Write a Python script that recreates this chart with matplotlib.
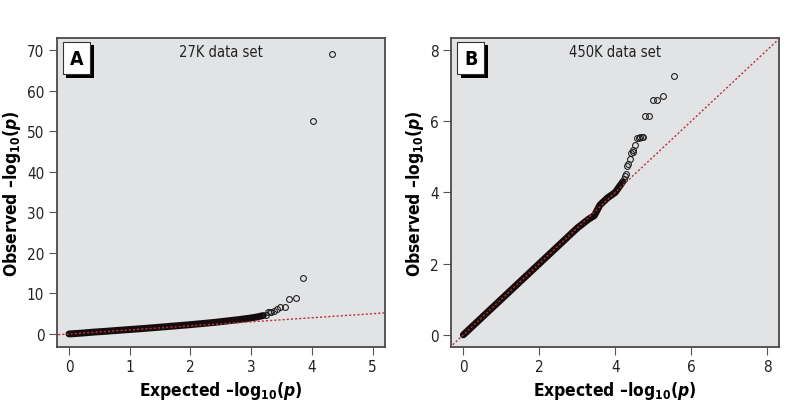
import matplotlib
matplotlib.use("Agg")
import matplotlib.pyplot as plt
from matplotlib import patheffects as pe

plt.rcParams['font.family'] = ['DejaVu Sans']
plt.rcParams['font.stretch'] = 'condensed'
plt.rcParams['mathtext.default'] = 'regular'
plt.rcParams['mathtext.fontset'] = 'custom'
plt.rcParams['mathtext.it'] = 'DejaVu Sans:italic:bold'

# Panel A - 27K data set (curve)
a_dense_x = [0.0, 0.2, 0.4, 0.6, 0.8, 1.0, 1.2, 1.4, 1.6, 1.8, 2.0, 2.2, 2.4, 2.6, 2.8, 3.0, 3.1, 3.2]
a_dense_y = [0.0, 0.2, 0.45, 0.65, 0.88, 1.1, 1.32, 1.56, 1.8, 2.05, 2.3, 2.58, 2.86, 3.2, 3.55, 3.95, 4.2, 4.55]
a_tail_x = [3.24, 3.28, 3.31, 3.33, 3.37, 3.43, 3.48, 3.55, 3.63, 3.73, 3.85, 4.02, 4.33]
a_tail_y = [4.7, 5.35, 5.35, 5.5, 5.75, 6.16, 6.65, 6.73, 8.6, 8.96, 13.7, 52.5, 69.1]

# Panel B - 450K data set
b_dense_x = [0.0, 1.0, 2.0, 3.0, 3.3, 3.45, 3.6, 3.8, 4.0, 4.1, 4.2]
b_dense_y = [0.0, 1.0, 2.0, 3.0, 3.25, 3.35, 3.65, 3.85, 4.0, 4.15, 4.3]
b_tail_x = [4.22, 4.26, 4.29, 4.32, 4.35, 4.39, 4.42, 4.46, 4.48, 4.53, 4.57, 4.62,
            4.66, 4.70, 4.74, 4.79, 4.88, 4.99, 5.09, 5.27, 5.56]
b_tail_y = [4.39, 4.46, 4.51, 4.74, 4.79, 4.93, 5.10, 5.14, 5.18, 5.33, 5.52, 5.54,
            5.55, 5.55, 5.56, 6.14, 6.15, 6.59, 6.59, 6.71, 7.28]

panels = [
    ('A', '27K data set', a_dense_x, a_dense_y, a_tail_x, a_tail_y,
     (-0.2, 5.2), (-3.2, 73.0), [0, 1, 2, 3, 4, 5], [0, 10, 20, 30, 40, 50, 60, 70]),
    ('B', '450K data set', b_dense_x, b_dense_y, b_tail_x, b_tail_y,
     (-0.32, 8.32), (-0.34, 8.34), [0, 2, 4, 6, 8], [0, 2, 4, 6, 8]),
]

fig = plt.figure(figsize=(8, 4.06), dpi=100)
lefts = [0.071, 0.564]

for left, (tag, title, dx, dy, tx, ty, xl, yl, xt, yt) in zip(lefts, panels):
    ax = fig.add_axes([left, 0.143, 0.41, 0.761])
    ax.set_facecolor('#e2e3e5')

    # dense part of the points
    ax.plot(dx, dy, color='#140c0c', lw=5, solid_capstyle='round', zorder=2)
    ax.plot(tx, ty, 'o', mfc='none', mec='#222222', ms=4.2, mew=0.8, zorder=3)

    # reference line y = x
    ax.plot([-1, 10], [-1, 10], color='#c0303a', lw=1, ls=(0, (1.5, 1.5)), zorder=4)

    ax.set_xlim(xl)
    ax.set_ylim(yl)
    ax.set_xticks(xt)
    ax.set_yticks(yt)
    ax.tick_params(direction='out', length=6, width=0.8, color='#555555',
                   labelsize=11, labelcolor='#222222', pad=3)
    for s in ax.spines.values():
        s.set_color('#4a4a4a')
        s.set_linewidth(1.3)

    ax.set_xlabel('Expected \u2013log$_{10}$($\\mathit{p}$)', fontsize=12.5,
                  fontweight='bold', labelpad=3)
    ax.set_ylabel('Observed \u2013log$_{10}$($\\mathit{p}$)', fontsize=12.5,
                  fontweight='bold', labelpad=3)

    ax.text(0.5, 0.955, title, transform=ax.transAxes, ha='center', va='center',
            fontsize=10.5, color='#222222')

    t = ax.text(0.06, 0.935, tag, transform=ax.transAxes, ha='center', va='center',
                fontsize=14, fontweight='bold', zorder=6,
                bbox=dict(boxstyle='square,pad=0.35', fc='white', ec='#333333', lw=0.8))
    t.get_bbox_patch().set_path_effects([
        pe.SimplePatchShadow(offset=(2.5, -2.5), shadow_rgbFace='black', alpha=1),
        pe.Normal()])

fig.savefig('out.png', dpi=100)
